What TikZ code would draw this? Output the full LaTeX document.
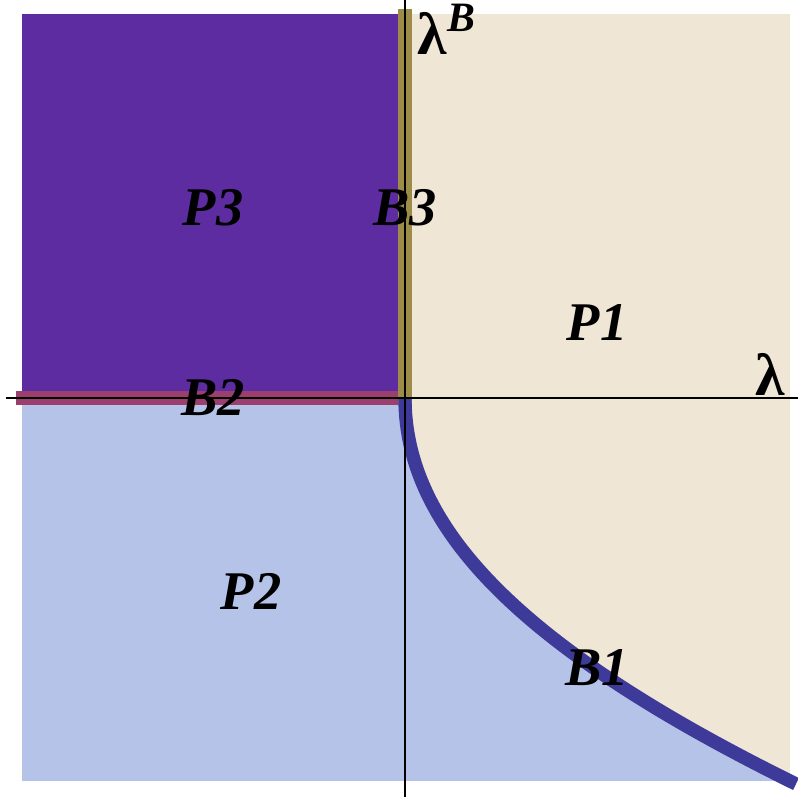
\documentclass[tikz,border=0pt]{standalone}
\usepackage{fontspec}
\setmainfont{Liberation Serif}
\definecolor{regpurple}{RGB}{92,44,160}
\definecolor{regblue}{RGB}{181,195,232}
\definecolor{regbeige}{RGB}{240,230,213}
\definecolor{curveblue}{RGB}{62,58,153}
\definecolor{bandolive}{RGB}{157,140,72}
\definecolor{bandred}{RGB}{155,63,111}

\begin{document}
\begin{tikzpicture}[
  lbl/.style={font=\fontsize{15.5}{18}\selectfont\bfseries\itshape},
  axlbl/.style={font=\fontsize{17}{20}\selectfont\bfseries},
  band/.style={line width=3.8pt},
  axis/.style={line width=0.45pt}]
\useasboundingbox (-4.05,-4.01) rectangle (3.93,3.98);
\coordinate (O) at (0,0);
\coordinate (E) at (3.91,-3.86);
\coordinate (L) at (-3.99,0);
\coordinate (R) at (3.93,0);
\coordinate (T) at (0,3.98);
\coordinate (D) at (0,-3.99);
\coordinate (Bl) at (-3.89,0);
\coordinate (Bt) at (0,3.89);
\coordinate (Bb) at (0,-0.07);
% regions
\begin{scope}
\clip (-3.83,-3.83) rectangle (3.85,3.84);
\fill[regblue] (-3.83,-3.83) rectangle (3.85,0);
\fill[regpurple] (-3.83,0) rectangle (0,3.84);
\fill[regbeige] (0,3.84) -- (O) .. controls (0,-1.35) and (1.25,-2.55) .. (E) -- (3.92,3.84) -- cycle;
\end{scope}
% boundaries
\draw[band,bandred] (Bl) -- (O);
\draw[band,bandolive] (Bb) -- (Bt);
\draw[band,curveblue] (O) .. controls (0,-1.35) and (1.25,-2.55) .. (E);
% axes
\draw[axis] (L) -- (R);
\draw[axis] (T) -- (D);
\node[lbl] (p3) at (-1.92,1.90) {P3};
\node[lbl] (b3) at (0,1.90) {B3};
\node[lbl] (p1) at (1.92,0.75) {P1};
\node[lbl] (b2) at (-1.92,0) {B2};
\node[lbl] (p2) at (-1.54,-1.93) {P2};
\node[lbl] (b1) at (1.92,-2.70) {B1};
\node[axlbl, anchor=base] (lam) at (3.65,0.03) {λ};
\node[axlbl, anchor=base west, inner sep=0pt] (lamb) at (0.12,3.44) {λ\textsuperscript{\itshape B}};
\end{tikzpicture}
\end{document}
